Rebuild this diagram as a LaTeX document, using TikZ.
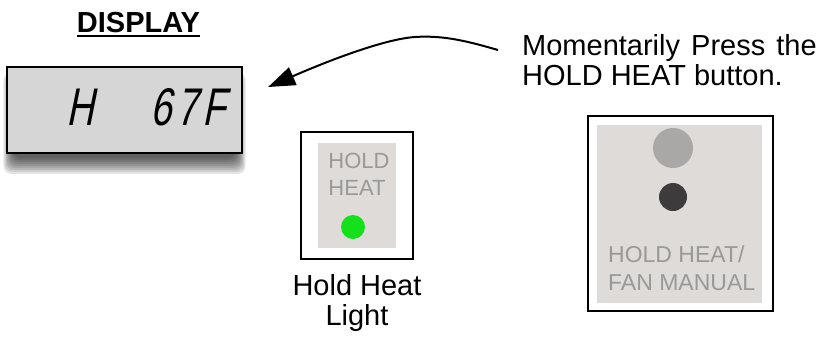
\documentclass[tikz,border=0pt]{standalone}
\usepackage{fontspec}
\setmainfont{Liberation Sans}
\newfontfamily\segfont{Liberation Sans}[FakeSlant=0.2,FakeStretch=0.72]
\usetikzlibrary{arrows.meta}
\definecolor{lcdgray}{HTML}{D6D6D6}
\definecolor{photogray}{HTML}{DEDBD9}
\definecolor{labelgray}{HTML}{999999}
\definecolor{ledgreen}{HTML}{14E01C}
\definecolor{btnlight}{HTML}{A9A8A7}
\definecolor{btndark}{HTML}{3D3B3B}
\tikzset{
  frame/.style={draw=black,line width=2pt,fill=white,inner sep=0pt},
  photo/.style={fill=photogray,draw=none,inner sep=0pt},
  lcdbox/.style={draw=black,line width=2.2pt,fill=lcdgray,inner sep=0pt},
  segtext/.style={font=\segfont\fontsize{53}{53}\selectfont,inner sep=0pt,anchor=base},
  bigtext/.style={font=\fontsize{29}{30}\selectfont,inner sep=0pt},
  titletext/.style={font=\bfseries\fontsize{29}{30}\selectfont,inner sep=0pt,anchor=base},
  phototext/.style={text=labelgray,inner sep=0pt,align=left},
  pointer/.style={line width=2pt,-{Triangle[length=27pt,width=19pt]}},
}
\begin{document}
\begin{tikzpicture}[x=1pt,y=-1pt]
\useasboundingbox (0,0) rectangle (830,343);
% shadow of the display
\foreach \r in {0,2,...,16}{
  \fill[black,opacity=0.1,rounded corners=8pt] (13-0.6*\r,88-\r) rectangle (236+0.6*\r,158+\r);
}
% title
\node[titletext] (title) at (138.5,32) {DISPLAY};
\draw[line width=2pt] ([yshift=-3.5pt]title.base west) -- ([yshift=-3.5pt]title.base east);
% LCD
\node[lcdbox,minimum width=235pt,minimum height=86pt] (lcd) at (124.5,110) {};
\node[segtext] (segH) at (80,125) {H};
\node[segtext] (segT) at (188,125) {6\kern5pt7\kern5ptF};
% message
\node[bigtext,anchor=base west,align=left] (msg) at (522,85) {Momentarily\hspace{3pt} Press\hspace{3pt} the\\HOLD HEAT button.};
\coordinate (msgstart) at (498,50);
\coordinate (tip) at ([xshift=25pt,yshift=23pt]lcd.east);
\draw[pointer] (msgstart) .. controls (470,42) and (445,35) .. (415,37) .. controls (385,39) and (330,60) .. (tip);
% hold heat light
\node[frame,minimum width=112pt,minimum height=127pt] (hhbox) at (357,195.5) {};
\node[photo,minimum width=78pt,minimum height=105pt] (hhphoto) at (357,195.5) {};
\node[phototext,font=\fontsize{22}{27}\selectfont,anchor=base] (hhtext) at (359,195) {HOLD\\HEAT};
\node[circle,fill=ledgreen,minimum size=24pt,inner sep=0pt] (led) at (353,227) {};
\node[bigtext,anchor=base,align=center] (hhlabel) at (357,325) {Hold Heat\\Light};
% button
\node[frame,minimum width=185pt,minimum height=195pt] (btnbox) at (680.5,213.5) {};
\node[photo,minimum width=165pt,minimum height=178pt] (btnphoto) at (679.5,214) {};
\node[circle,fill=btnlight,minimum size=40pt,inner sep=0pt] (btnlamp) at (673,148) {};
\node[circle,fill=btndark,minimum size=28pt,inner sep=0pt] (btnkey) at (673,197) {};
\node[phototext,font=\fontsize{23}{28}\selectfont,anchor=base west] (btntext) at (608,290) {HOLD HEAT/\\FAN MANUAL};
\end{tikzpicture}
\end{document}
